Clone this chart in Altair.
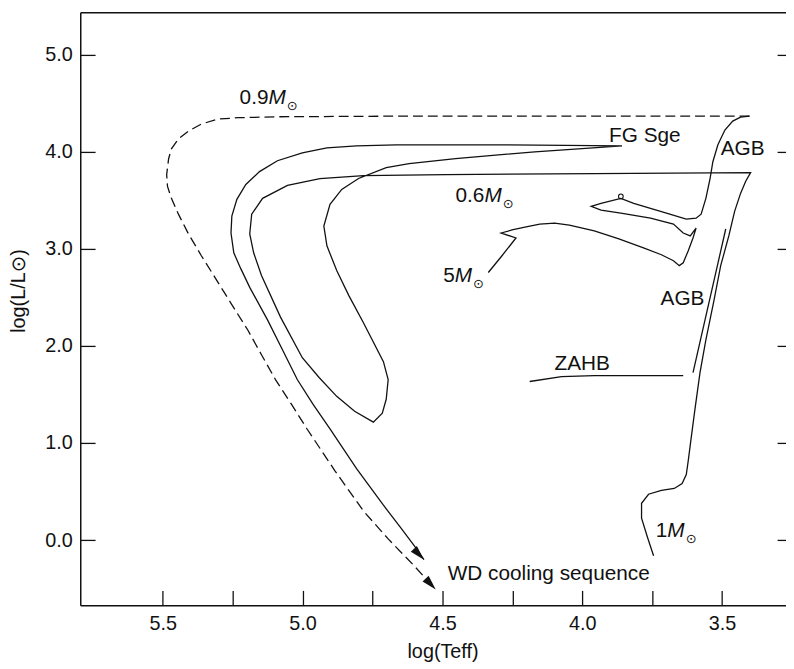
import altair as alt
import pandas as pd

FONT = "Liberation Sans, Arial, Helvetica, DejaVu Sans, sans-serif"
INK = "#111111"

# ---------------- data: x = log(Teff), y = log(L/Lsun) ----------------
# 1 Msun: RGB -> AGB tip -> 0.6 Msun post-AGB -> WD -> FG Sge (born again) -> WD cooling
track1_logt = [3.745, 3.766, 3.788, 3.788, 3.763, 3.717, 3.671, 3.643, 3.628, 3.621,
               3.611, 3.597, 3.579, 3.558, 3.529, 3.505, 3.476, 3.455, 3.434, 3.416,
               3.398, 3.957, 4.488, 4.782, 4.938, 5.054, 5.143, 5.182, 5.189, 5.175,
               5.147, 5.079, 5.001, 4.941, 4.878, 4.814, 4.747, 4.715, 4.701, 4.694,
               4.711, 4.782, 4.835, 4.878, 4.913, 4.924, 4.902, 4.860, 4.800, 4.701,
               4.619, 4.453, 4.170, 3.858, 4.311, 4.665, 4.807, 4.913, 5.001, 5.090,
               5.154, 5.203, 5.235, 5.253, 5.256, 5.246, 5.221, 5.189, 5.125, 5.072,
               5.019, 4.963, 4.902, 4.807, 4.711, 4.648, 4.595, 4.566]
track1_logl = [-0.160, 0.023, 0.227, 0.380, 0.473, 0.513, 0.533, 0.584, 0.676, 0.819,
               1.043, 1.349, 1.726, 2.062, 2.470, 2.827, 3.133, 3.388, 3.571, 3.693,
               3.785, 3.775, 3.765, 3.754, 3.724, 3.653, 3.520, 3.357, 3.153, 2.959,
               2.725, 2.297, 1.879, 1.675, 1.481, 1.328, 1.216, 1.308, 1.451, 1.654,
               1.838, 2.236, 2.521, 2.776, 3.031, 3.235, 3.459, 3.612, 3.724, 3.836,
               3.877, 3.928, 3.999, 4.060, 4.071, 4.071, 4.060, 4.040, 3.989, 3.907,
               3.795, 3.663, 3.510, 3.337, 3.163, 2.959, 2.796, 2.603, 2.266, 1.960,
               1.654, 1.400, 1.145, 0.737, 0.360, 0.125, -0.078, -0.201]

# 5 Msun: main sequence hook -> giant -> blue loop -> AGB
track5_logt = [4.336, 4.287, 4.237, 4.290, 4.251, 4.205, 4.152, 4.099, 4.046, 3.957,
               3.869, 3.781, 3.717, 3.674, 3.653, 3.639, 3.621, 3.604, 3.593, 3.614,
               3.639, 3.674, 3.756, 3.862, 3.933, 3.968, 3.933, 3.862, 3.816, 3.699,
               3.628, 3.593, 3.575, 3.558, 3.543, 3.533, 3.515, 3.490, 3.462, 3.434,
               3.402]
track5_logl = [2.756, 2.929, 3.112, 3.163, 3.194, 3.224, 3.255, 3.265, 3.245, 3.184,
               3.102, 3.010, 2.939, 2.878, 2.827, 2.857, 2.980, 3.112, 3.214, 3.133,
               3.163, 3.255, 3.316, 3.367, 3.398, 3.438, 3.469, 3.520, 3.469, 3.367,
               3.306, 3.316, 3.357, 3.520, 3.724, 3.897, 4.071, 4.223, 4.315, 4.356,
               4.366]

# 0.9 Msun post-AGB remnant (dashed)
post09_logt = [3.402, 3.957, 4.665, 5.090, 5.231, 5.302, 5.362, 5.408, 5.444, 5.469,
               5.479, 5.486, 5.483, 5.469, 5.444, 5.408, 5.362, 5.313, 5.256, 5.196,
               5.147, 5.097, 5.040, 4.984, 4.885, 4.782, 4.694, 4.605, 4.524]
post09_logl = [4.366, 4.366, 4.366, 4.360, 4.350, 4.336, 4.285, 4.213, 4.132, 4.030,
               3.928, 3.765, 3.642, 3.520, 3.357, 3.153, 2.929, 2.704, 2.439, 2.164,
               1.909, 1.654, 1.400, 1.145, 0.717, 0.299, 0.013, -0.252, -0.507]

zahb_logt = [4.188, 4.074, 3.957, 3.639]
zahb_logl = [1.634, 1.685, 1.695, 1.695]

agb_logt = [3.604, 3.487]
agb_logl = [1.726, 3.204]

knot_logt = [3.862]
knot_logl = [3.540]

x_ticks = [5.5, 5.25, 5.0, 4.75, 4.5, 4.25, 4.0, 3.75, 3.5]
y_ticks = [0, 1, 2, 3, 4, 5]
x_domain = [3.2715, 5.795]
y_domain = [-0.67, 5.435]

plain_text = ["FG Sge", "AGB", "AGB", "ZAHB", "WD cooling sequence"]
plain_logt = [3.904, 3.505, 3.720, 4.099, 4.481]
plain_logl = [4.101, 3.969, 2.419, 1.756, -0.415]

mass_num = ["0.9", "0.6", "5", "1"]
mass_logt = [5.122, 4.350, 4.456, 3.696]
mass_logl = [4.488, 3.479, 2.654, 0.034]

# ---------------- tables ----------------
def track(name, xs, ys):
    return pd.DataFrame({"track": name, "i": range(len(xs)), "logt": xs, "logl": ys})

solid = pd.concat([track("1", track1_logt, track1_logl),
                   track("5", track5_logt, track5_logl),
                   track("agb", agb_logt, agb_logl)], ignore_index=True)
dashed = track("0.9", post09_logt, post09_logl)
zahb = track("zahb", zahb_logt, zahb_logl)
arrows = pd.DataFrame({"logt": [track1_logt[-1], post09_logt[-1]],
                       "logl": [track1_logl[-1], post09_logl[-1]]})
knot = pd.DataFrame({"logt": knot_logt, "logl": knot_logl})
plain = pd.DataFrame({"text": plain_text, "logt": plain_logt, "logl": plain_logl})
mass = pd.DataFrame({"num": mass_num, "logt": mass_logt, "logl": mass_logl})

xs = alt.Scale(domain=x_domain, reverse=True, nice=False, zero=False)
ys = alt.Scale(domain=y_domain, nice=False, zero=False)

def X(axis=None):
    return alt.X("logt:Q", scale=xs, axis=axis)

def Y(axis=None):
    return alt.Y("logl:Q", scale=ys, axis=axis)

x_axis = alt.Axis(orient="bottom", values=x_ticks,
                  labelExpr="(datum.value * 4) % 2 == 0 ? format(datum.value, '.1f') : ''",
                  tickSize={"expr": "-15"}, labelPadding=23.5, tickColor=INK, tickWidth=1.3,
                  domainColor=INK, domainWidth=1.5, grid=False,
                  labelFont=FONT, labelFontSize=20, labelColor=INK,
                  labelFlush=False, labelOverlap=False,
                  title="log(Teff)", titleFont=FONT, titleFontSize=20,
                  titleFontWeight="normal", titleColor=INK,
                  titleX=366, titleY=53, titleBaseline="alphabetic", titleAlign="center")
y_axis = alt.Axis(orient="left", values=y_ticks, format=".1f",
                  tickSize={"expr": "-15"}, labelPadding=23, tickColor=INK, tickWidth=1.3,
                  domainColor=INK, domainWidth=1.5, grid=False,
                  labelFont=FONT, labelFontSize=20, labelColor=INK,
                  labelFlush=False, labelOverlap=False,
                  title="log(L/L⊙)", titleFont=FONT, titleFontSize=20,
                  titleFontWeight="normal", titleColor=INK, titleAngle=270,
                  titleX=-62, titleY=281, titleBaseline="middle", titleAlign="center")
top_axis = alt.Axis(orient="top", ticks=False, labels=False, domain=True,
                    domainColor=INK, domainWidth=1.5, grid=False, title=None)
right_axis = alt.Axis(orient="right", values=y_ticks, labels=False, domain=False,
                      tickSize={"expr": "-9"}, tickColor=INK, tickWidth=1.3,
                      grid=False, title=None)

line_style = dict(color=INK, strokeWidth=1.3)

layer_solid = alt.Chart(solid).mark_line(**line_style).encode(
    x=X(x_axis), y=Y(y_axis), detail="track:N", order="i:Q")
layer_zahb = alt.Chart(zahb).mark_line(**line_style).encode(
    x=X(top_axis), y=Y(right_axis), order="i:Q")
layer_dash = alt.Chart(dashed).mark_line(strokeDash=[10, 5], **line_style).encode(
    x=X(), y=Y(), order="i:Q")
layer_arrow = alt.Chart(arrows).mark_point(
    shape="M0,0 L0.28,1 L-0.28,1 Z", size=900, angle=137, filled=True,
    color=INK, opacity=1, strokeWidth=0).encode(x=X(), y=Y())
layer_knot = alt.Chart(knot).mark_point(
    shape="circle", size=22, filled=False, color=INK, opacity=1, strokeWidth=1.1
).encode(x=X(), y=Y())

txt = dict(font=FONT, fontSize=21, color=INK, baseline="alphabetic")
layer_plain = alt.Chart(plain).mark_text(align="left", **txt).encode(
    x=X(), y=Y(), text="text:N")
layer_num = alt.Chart(mass).mark_text(align="right", **txt).encode(
    x=X(), y=Y(), text="num:N")
layer_m = alt.Chart(mass).mark_text(align="left", fontStyle="italic", **txt).encode(
    x=X(), y=Y(), text=alt.value("M"))
layer_sun = alt.Chart(mass).mark_text(align="center", baseline="middle", dx=24, dy=2,
                                      font=FONT, fontSize=13, color=INK).encode(
    x=X(), y=Y(), text=alt.value("⊙"))

chart = alt.layer(
    layer_solid, layer_zahb, layer_dash, layer_arrow, layer_knot,
    layer_plain, layer_num, layer_m, layer_sun
).resolve_axis(
    x="independent", y="independent"
).properties(
    width=713, height=599,
    autosize=alt.AutoSizeParams(type="none"),
    padding={"left": 73, "top": 1, "right": 0, "bottom": 60},
    background="white",
).configure_view(stroke=None)

chart.save("out.html", embed_options={"renderer": "svg", "actions": False})
